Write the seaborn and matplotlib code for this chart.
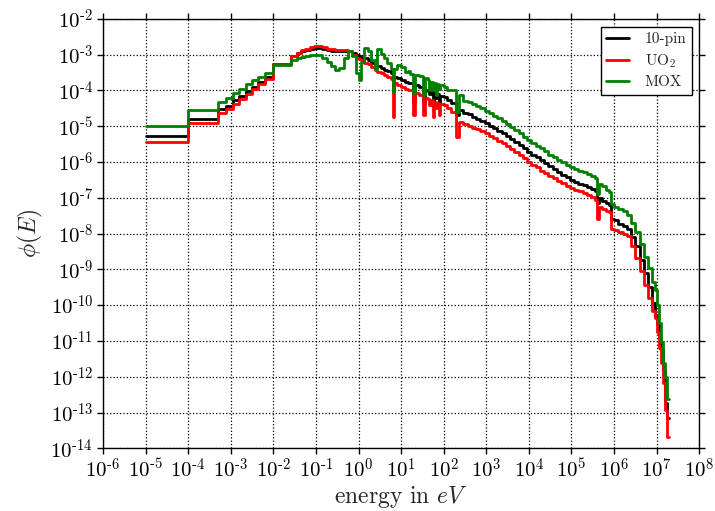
import matplotlib
matplotlib.use("Agg")
import numpy as np
import pandas as pd
import seaborn as sns
import matplotlib.pyplot as plt
from matplotlib.ticker import LogLocator, NullLocator, FuncFormatter

# ---- data (log10 values) ----
# group edges, log10(energy / eV); last value is the top edge
log_edges = [
    -5.0, -4.0, -3.3, -3.1, -2.95, -2.8, -2.65, -2.5, -2.35, -2.2,
    -2.0, -1.58, -1.45, -1.35, -1.25, -1.15, -1.05, -0.95, -0.85, -0.75,
    -0.65, -0.55, -0.45, -0.35, -0.25, -0.15, -0.05, 0.0, 0.05, 0.12,
    0.22, 0.30, 0.38, 0.44, 0.52, 0.60, 0.68, 0.76, 0.80, 0.84,
    0.90, 1.00, 1.08, 1.15, 1.22, 1.29, 1.33, 1.43, 1.51, 1.55,
    1.62, 1.66, 1.70, 1.74, 1.78, 1.81, 1.84, 1.88, 1.92, 2.00,
    2.08, 2.18, 2.30, 2.35, 2.46, 2.56, 2.66, 2.76, 2.86, 2.96,
    3.06, 3.16, 3.26, 3.36, 3.46, 3.56, 3.66, 3.76, 3.86, 3.96,
    4.06, 4.16, 4.26, 4.36, 4.46, 4.56, 4.66, 4.76, 4.86, 4.96,
    5.06, 5.16, 5.26, 5.36, 5.46, 5.56, 5.60, 5.64, 5.72, 5.80,
    5.88, 5.92, 6.00, 6.10, 6.20, 6.30, 6.40, 6.50, 6.60, 6.70,
    6.80, 6.90, 6.95, 7.00, 7.05, 7.10, 7.15, 7.20, 7.25, 7.30,
]

# group flux, log10(phi)
log_flux_10pin = [
    -5.28, -4.79, -4.53, -4.42, -4.28, -4.15, -4.02, -3.90, -3.76, -3.63,
    -3.25, -3.05, -2.96, -2.91, -2.86, -2.83, -2.81, -2.81, -2.84, -2.87,
    -2.89, -2.90, -2.90, -2.89, -2.89, -2.95, -3.01, -3.05, -3.08, -3.10,
    -3.15, -3.22, -3.28, -3.32, -3.37, -3.42, -3.46, -3.52, -3.90, -3.62,
    -3.66, -3.71, -3.76, -3.79, -3.80, -4.32, -3.85, -3.90, -4.32, -3.99,
    -4.02, -4.10, -4.05, -4.36, -4.08, -4.20, -4.10, -4.36, -4.15, -4.18,
    -4.28, -4.36, -4.69, -4.55, -4.62, -4.67, -4.73, -4.79, -4.85, -4.91,
    -4.98, -5.06, -5.13, -5.20, -5.28, -5.35, -5.44, -5.53, -5.62, -5.71,
    -5.79, -5.87, -5.95, -6.04, -6.12, -6.19, -6.27, -6.35, -6.43, -6.50,
    -6.55, -6.60, -6.65, -6.70, -6.75, -6.82, -7.15, -7.00, -7.08, -7.15,
    -7.20, -7.58, -7.62, -7.72, -7.80, -7.88, -8.10, -8.35, -8.75, -9.10,
    -9.49, -9.95, -10.28, -10.50, -10.90, -11.25, -11.81, -12.74, -13.16,
]

log_flux_uo2 = [
    -5.45, -4.91, -4.64, -4.52, -4.38, -4.24, -4.10, -3.96, -3.82, -3.69,
    -3.25, -3.03, -2.94, -2.88, -2.83, -2.79, -2.77, -2.76, -2.79, -2.83,
    -2.85, -2.86, -2.87, -2.88, -2.90, -3.00, -3.08, -3.12, -3.16, -3.22,
    -3.27, -3.35, -3.42, -3.47, -3.52, -3.58, -3.63, -3.68, -4.74, -3.80,
    -3.85, -3.90, -3.95, -3.98, -3.99, -4.69, -4.08, -4.12, -4.69, -4.22,
    -4.25, -4.40, -4.28, -4.74, -4.32, -4.50, -4.34, -4.69, -4.38, -4.41,
    -4.50, -4.60, -5.30, -4.88, -4.95, -4.99, -5.04, -5.09, -5.14, -5.19,
    -5.26, -5.33, -5.40, -5.48, -5.55, -5.63, -5.72, -5.81, -5.90, -5.99,
    -6.07, -6.15, -6.24, -6.32, -6.40, -6.46, -6.53, -6.59, -6.66, -6.72,
    -6.77, -6.82, -6.87, -6.92, -6.97, -7.05, -7.58, -7.27, -7.32, -7.36,
    -7.40, -7.86, -7.90, -7.95, -8.00, -8.08, -8.35, -8.68, -9.05, -9.45,
    -9.81, -10.15, -10.37, -10.75, -11.20, -11.63, -12.18, -12.93, -13.69,
]

log_flux_mox = [
    -5.00, -4.55, -4.33, -4.21, -4.07, -3.95, -3.83, -3.72, -3.62, -3.52,
    -3.28, -3.15, -3.10, -3.06, -3.03, -3.01, -3.00, -3.02, -3.08, -3.20,
    -3.33, -3.42, -3.38, -3.10, -2.89, -3.05, -3.50, -3.71, -3.20, -2.81,
    -2.90, -3.15, -3.39, -2.85, -2.98, -3.10, -3.22, -3.40, -4.05, -3.40,
    -3.29, -3.34, -3.48, -3.45, -3.55, -4.08, -3.57, -3.60, -4.13, -3.66,
    -3.70, -3.98, -3.76, -4.00, -3.80, -4.13, -3.82, -3.95, -3.85, -3.90,
    -3.99, -4.00, -4.59, -4.13, -4.29, -4.33, -4.39, -4.44, -4.50, -4.56,
    -4.63, -4.71, -4.78, -4.86, -4.94, -5.02, -5.11, -5.20, -5.29, -5.38,
    -5.46, -5.54, -5.62, -5.70, -5.79, -5.86, -5.93, -6.00, -6.07, -6.14,
    -6.19, -6.24, -6.29, -6.34, -6.39, -6.45, -6.88, -6.60, -6.68, -6.78,
    -6.83, -7.16, -7.25, -7.30, -7.38, -7.48, -7.70, -7.95, -8.30, -8.65,
    -8.97, -9.35, -9.58, -10.00, -10.50, -11.02, -11.63, -12.00, -12.63,
]

labels = ["10-pin", "UO$_2$", "MOX"]
colors = ["#000000", "#ff0000", "#008000"]

# ---- build table ----
frames = []
for lab, vals in zip(labels, [log_flux_10pin, log_flux_uo2, log_flux_mox]):
    e = 10.0 ** np.array(log_edges)
    f = 10.0 ** np.array(vals + [vals[-1]])
    frames.append(pd.DataFrame({"energy": e, "flux": f, "case": lab}))
df = pd.concat(frames, ignore_index=True)

# ---- style ----
sns.set_style("ticks")
plt.rcParams["font.family"] = ["cmr10", "DejaVu Serif"]
plt.rcParams["mathtext.fontset"] = "cm"
plt.rcParams["axes.formatter.use_mathtext"] = True
plt.rcParams["axes.unicode_minus"] = False

fig = plt.figure(figsize=(7.15, 5.11), dpi=100)
ax = fig.add_axes([0.144, 0.1227, 0.834, 0.8403])
ax.set_xscale("log")
ax.set_yscale("log")

sns.lineplot(data=df, x="energy", y="flux", hue="case", hue_order=labels,
             palette=dict(zip(labels, colors)), drawstyle="steps-post",
             linewidth=2.0, estimator=None, sort=False, ax=ax)

ax.set_xlim(1e-6, 1e8)
ax.set_ylim(1e-14, 1e-2)
ax.xaxis.set_major_locator(LogLocator(base=10, numticks=30))
ax.yaxis.set_major_locator(LogLocator(base=10, numticks=30))
ax.xaxis.set_minor_locator(NullLocator())
ax.yaxis.set_minor_locator(NullLocator())


def decade_label(v, pos):
    p = int(round(np.log10(v)))
    if p < 0:
        return r"$10^{\text{-}%d}$" % (-p)
    return r"$10^{%d}$" % p


ax.xaxis.set_major_formatter(FuncFormatter(decade_label))
ax.yaxis.set_major_formatter(FuncFormatter(decade_label))

ax.grid(True, which="major", linestyle=":", color="k", linewidth=0.9)
ax.tick_params(which="major", direction="out", length=4, width=1, pad=3,
               top=True, right=True, labelsize=15, colors="k")
for sp in ax.spines.values():
    sp.set_visible(True)
    sp.set_color("k")
    sp.set_linewidth(1.0)

ax.set_xlabel("energy in $eV$", fontsize=17, labelpad=1)
ax.set_ylabel(r"$\phi(E)$", fontsize=17)

handles, _ = ax.get_legend_handles_labels()
leg = ax.legend(handles, labels, loc="upper right", fontsize=11,
                frameon=True, fancybox=False, edgecolor="k", framealpha=1,
                borderaxespad=0.5, borderpad=0.35, labelspacing=0.4,
                handlelength=1.5, handletextpad=1.0)
leg.get_frame().set_linewidth(1.0)

fig.savefig("out.png", dpi=100)
